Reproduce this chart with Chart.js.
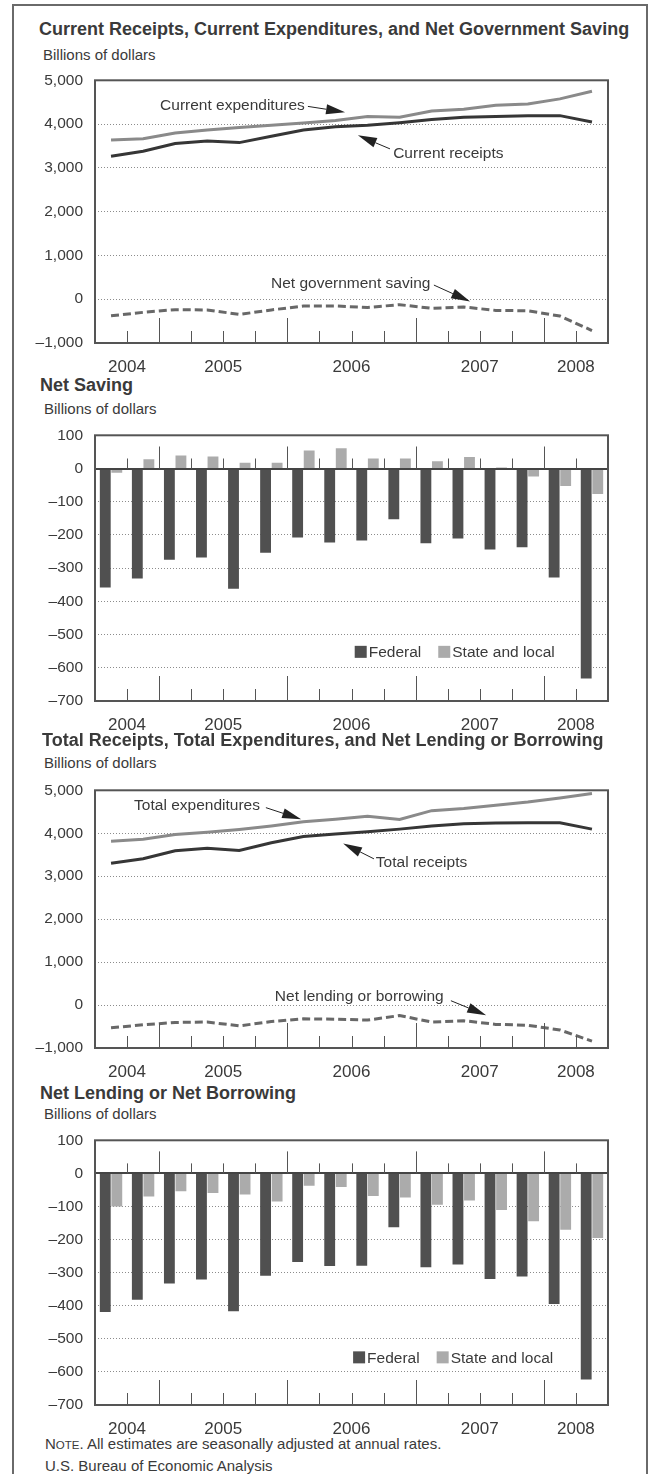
<!DOCTYPE html>
<html>
<head>
<meta charset="utf-8">
<script src="https://cdn.jsdelivr.net/npm/chart.js@4/dist/chart.umd.min.js"></script>
<style>
	body { margin: 0; background: #fff; }
	#page { position: relative; width: 652px; height: 1474px; overflow: hidden; background: #fff; font-family: "Liberation Sans", Arial, sans-serif; color: #3a3a3a; }
	.frame { position: absolute; left: 12px; top: 4px; width: 632px; height: 1500px; border: 2px solid #6a6a6a; }
	.title { position: absolute; font-size: 18px; font-weight: bold; line-height: 20px; white-space: nowrap; }
	.unit { position: absolute; font-size: 15px; line-height: 18px; white-space: nowrap; }
	canvas { position: absolute; left: 0; }
</style>
</head>
<body>
<div id="page">
	<div class="frame"></div>

	<div class="title" style="left:39px;top:19px">Current Receipts, Current Expenditures, and Net Government Saving</div>
	<div class="unit" style="left:43px;top:46px">Billions of dollars</div>
	<canvas id="chart-current" width="652" height="314" style="top:59px"></canvas>

	<div class="title" style="left:40px;top:375px">Net Saving</div>
	<div class="unit" style="left:44px;top:400px">Billions of dollars</div>
	<canvas id="chart-saving" width="652" height="317" style="top:414px"></canvas>

	<div class="title" style="left:42px;top:730px">Total Receipts, Total Expenditures, and Net Lending or Borrowing</div>
	<div class="unit" style="left:44px;top:754px">Billions of dollars</div>
	<canvas id="chart-total" width="652" height="309" style="top:769px"></canvas>

	<div class="title" style="left:40px;top:1083px">Net Lending or Net Borrowing</div>
	<div class="unit" style="left:44px;top:1105px">Billions of dollars</div>
	<canvas id="chart-lending" width="652" height="316" style="top:1119px"></canvas>

	<div class="unit" style="left:45px;top:1435px">N<span style="font-size:11.5px">OTE</span>. All estimates are seasonally adjusted at annual rates.</div>
	<div class="unit" style="left:45px;top:1457px">U.S. Bureau of Economic Analysis</div>
</div>

<script>
const quarters = ["2004 Q3", "2004 Q4", "2005 Q1", "2005 Q2", "2005 Q3", "2005 Q4", "2006 Q1", "2006 Q2",
	"2006 Q3", "2006 Q4", "2007 Q1", "2007 Q2", "2007 Q3", "2007 Q4", "2008 Q1", "2008 Q2"];

const currentExpenditures = [3635, 3663, 3794, 3867, 3924, 3975, 4026, 4084, 4171, 4156, 4301, 4338, 4432, 4460, 4576, 4750];
const currentReceipts = [3265, 3381, 3555, 3613, 3577, 3722, 3867, 3939, 3975, 4033, 4105, 4157, 4171, 4193, 4193, 4048];
const netGovernmentSaving = [-378, -300, -238, -245, -347, -245, -155, -155, -188, -125, -208, -178, -255, -265, -384, -715];

const federalSaving = [-358, -331, -275, -268, -362, -254, -208, -223, -217, -153, -225, -211, -244, -237, -328, -632];
const stateLocalSaving = [-13, 28, 39, 36, 17, 17, 54, 61, 30, 30, 22, 35, 3, -24, -53, -77];

const totalExpenditures = [3815, 3859, 3970, 4022, 4089, 4170, 4267, 4326, 4393, 4319, 4526, 4578, 4652, 4726, 4822, 4926];
const totalReceipts = [3304, 3407, 3593, 3652, 3600, 3778, 3926, 3985, 4037, 4096, 4170, 4222, 4237, 4244, 4244, 4096];
const netLending = [-530, -460, -405, -395, -485, -385, -320, -330, -350, -245, -395, -365, -450, -470, -580, -840];

const federalLending = [-419, -382, -333, -321, -417, -309, -268, -280, -279, -163, -284, -275, -319, -312, -395, -623];
const stateLocalLending = [-100, -70, -54, -59, -64, -85, -37, -41, -68, -73, -95, -82, -111, -145, -170, -195];

const TEXT = "#3a3a3a";
const FONT = '"Liberation Sans", Arial, sans-serif';

Chart.defaults.font.family = FONT;
Chart.defaults.font.size = 15.5;
Chart.defaults.color = TEXT;

const yearOf = i => quarters[i].slice(0, 4);

// year label sits in the middle of that year's quarters (always on a quarter boundary here)
function yearLabel(index) {
	const year = yearOf(index);
	const idx = quarters.map((q, i) => i).filter(i => yearOf(i) === year);
	const mid = (idx[0] + idx[idx.length - 1]) / 2;
	return Math.floor(mid) === index ? year : "";
}

function fmt(value) {
	const s = Math.abs(value).toLocaleString("en-US");
	return value < 0 ? "\u2013" + s : s;
}

function arrow(ctx, x0, y0, x1, y1) {
	const ang = Math.atan2(y1 - y0, x1 - x0);
	const len = 19, half = 5;
	const bx = x1 - len * Math.cos(ang), by = y1 - len * Math.sin(ang);
	ctx.lineWidth = 1;
	ctx.beginPath();
	ctx.moveTo(x0, y0);
	ctx.lineTo(bx, by);
	ctx.stroke();
	ctx.beginPath();
	ctx.moveTo(x1, y1);
	ctx.lineTo(bx + half * Math.sin(ang), by - half * Math.cos(ang));
	ctx.lineTo(bx - half * Math.sin(ang), by + half * Math.cos(ang));
	ctx.closePath();
	ctx.fill();
}

const overlay = {
	id: "overlay",
	afterDatasetsDraw(chart, args, opts) {
		const { ctx, chartArea: a, scales: { x, y } } = chart;
		ctx.save();

		if (opts.bars) {
			const z = Math.round(y.getPixelForValue(0));
			ctx.strokeStyle = "#444";
			ctx.lineWidth = 2;
			ctx.beginPath();
			ctx.moveTo(a.left, z);
			ctx.lineTo(a.right, z);
			ctx.stroke();
		}

		// quarter ticks, longer at year boundaries
		ctx.strokeStyle = "#555";
		ctx.lineWidth = 1;
		for (let i = 0; i < quarters.length - 1; i++) {
			const px = Math.round((x.getPixelForValue(i) + x.getPixelForValue(i + 1)) / 2) + 0.5;
			const major = yearOf(i) !== yearOf(i + 1);
			ctx.beginPath();
			ctx.moveTo(px, a.bottom);
			ctx.lineTo(px, a.bottom - (major ? 25 : 12));
			if (opts.bars) {
				const z = y.getPixelForValue(0);
				ctx.moveTo(px, z);
				ctx.lineTo(px, z - (major ? 22 : 10));
			}
			ctx.stroke();
		}

		ctx.strokeStyle = "#555";
		ctx.lineWidth = 2;
		ctx.strokeRect(a.left, a.top, a.right - a.left, a.bottom - a.top);

		ctx.strokeStyle = "#222";
		ctx.font = "15.5px " + FONT;
		ctx.textBaseline = "middle";
		ctx.textAlign = "left";
		for (const note of opts.notes || []) {
			ctx.fillStyle = TEXT;
			ctx.fillText(note.text, x.getPixelForValue(note.at[0]), y.getPixelForValue(note.at[1]));
			ctx.fillStyle = "#222";
			arrow(ctx, x.getPixelForValue(note.from[0]), y.getPixelForValue(note.from[1]),
				x.getPixelForValue(note.to[0]), y.getPixelForValue(note.to[1]));
		}

		if (opts.legendAt) {
			let lx = x.getPixelForValue(opts.legendAt[0]);
			const ly = y.getPixelForValue(opts.legendAt[1]);
			for (const ds of chart.data.datasets) {
				ctx.fillStyle = ds.backgroundColor;
				ctx.fillRect(lx, ly - 6, 12, 12);
				ctx.fillStyle = TEXT;
				ctx.fillText(ds.label, lx + 14, ly + 1);
				lx += 14 + ctx.measureText(ds.label).width + 17;
			}
		}
		ctx.restore();
	}
};

function makeScales(min, max, step) {
	return {
		x: {
			type: "category",
			offset: true,
			grid: { display: false },
			border: { display: false },
			ticks: {
				autoSkip: false,
				maxRotation: 0,
				padding: 6,
				labelOffset: 16,
				font: { size: 17 },
				callback: (value, index) => yearLabel(index)
			},
			afterFit: scale => { scale.height = 30; }
		},
		y: {
			min: min,
			max: max,
			grid: { color: "#8c8c8c", lineWidth: 1, drawTicks: false },
			border: { display: false, dash: [1, 2] },
			ticks: { stepSize: step, padding: 12, callback: v => fmt(v) },
			afterFit: scale => { scale.width = 95; }
		}
	};
}

function baseOptions(scales, overlayOpts) {
	return {
		responsive: false,
		devicePixelRatio: 1,
		animation: false,
		layout: { padding: { top: 12, right: 44, left: 0, bottom: 0 } },
		plugins: {
			legend: { display: false },
			tooltip: { enabled: false },
			overlay: overlayOpts
		},
		scales: scales
	};
}

function lineSet(label, data, color, dashed) {
	return {
		label: label,
		data: data,
		borderColor: color,
		borderWidth: 3,
		borderDash: dashed ? [8, 4] : [],
		pointRadius: 0,
		tension: 0,
		fill: false
	};
}

function barSet(label, data, color) {
	return {
		label: label,
		data: data,
		backgroundColor: color,
		borderWidth: 0,
		categoryPercentage: 0.72,
		barPercentage: 0.94
	};
}

new Chart(document.getElementById("chart-current"), {
	type: "line",
	data: {
		labels: quarters,
		datasets: [
			lineSet("Current expenditures", currentExpenditures, "#8a8a8a"),
			lineSet("Current receipts", currentReceipts, "#363636"),
			lineSet("Net government saving", netGovernmentSaving, "#686868", true)
		]
	},
	options: baseOptions(makeScales(-1000, 5000, 1000), {
		notes: [
			{ text: "Current expenditures", at: [1.53, 4426], from: [6.14, 4404], to: [7.3, 4272] },
			{ text: "Current receipts", at: [8.8, 3323], from: [8.7, 3434], to: [7.7, 3743] },
			{ text: "Net government saving", at: [4.99, 345], from: [10.07, 323], to: [11.2, -52] }
		]
	}),
	plugins: [overlay]
});

new Chart(document.getElementById("chart-saving"), {
	type: "bar",
	data: {
		labels: quarters,
		datasets: [
			barSet("Federal", federalSaving, "#505050"),
			barSet("State and local", stateLocalSaving, "#ababab")
		]
	},
	options: baseOptions(makeScales(-700, 100, 100), { bars: true, legendAt: [7.6, -552] }),
	plugins: [overlay]
});

new Chart(document.getElementById("chart-total"), {
	type: "line",
	data: {
		labels: quarters,
		datasets: [
			lineSet("Total expenditures", totalExpenditures, "#8a8a8a"),
			lineSet("Total receipts", totalReceipts, "#363636"),
			lineSet("Net lending or borrowing", netLending, "#686868", true)
		]
	},
	options: baseOptions(makeScales(-1000, 5000, 1000), {
		notes: [
			{ text: "Total expenditures", at: [0.72, 4640], from: [4.83, 4596], to: [5.93, 4326] },
			{ text: "Total receipts", at: [8.26, 3315], from: [8.2, 3404], to: [7.24, 3764] },
			{ text: "Net lending or borrowing", at: [5.11, 191], from: [10.6, 101], to: [11.7, -236] }
		]
	}),
	plugins: [overlay]
});

new Chart(document.getElementById("chart-lending"), {
	type: "bar",
	data: {
		labels: quarters,
		datasets: [
			barSet("Federal", federalLending, "#505050"),
			barSet("State and local", stateLocalLending, "#ababab")
		]
	},
	options: baseOptions(makeScales(-700, 100, 100), { bars: true, legendAt: [7.55, -556] }),
	plugins: [overlay]
});
</script>
</body>
</html>
